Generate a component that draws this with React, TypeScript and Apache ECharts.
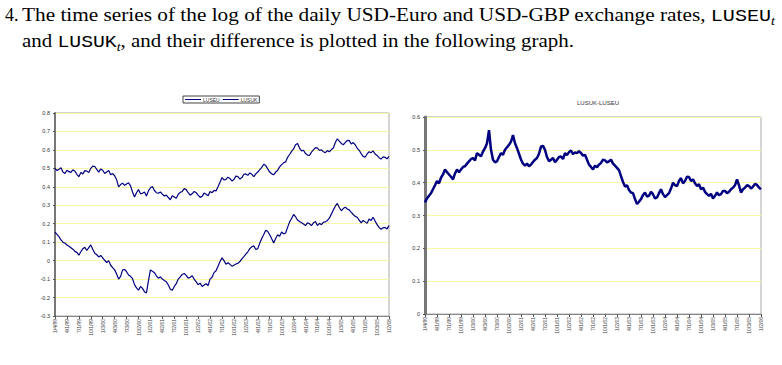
import React, { useEffect, useLayoutEffect, useRef } from "react";
import * as echarts from "echarts";

// Semi-monthly observation dates
const dates = [
  "1/4/99","1/18/99","2/1/99","2/15/99","3/1/99","3/15/99","4/1/99","4/15/99","5/3/99","5/17/99","6/1/99","6/15/99","7/1/99","7/15/99","8/2/99","8/16/99","9/1/99","9/15/99","10/1/99","10/15/99","11/1/99","11/15/99","12/1/99","12/15/99",
  "1/3/00","1/17/00","2/1/00","2/15/00","3/1/00","3/15/00","4/3/00","4/17/00","5/1/00","5/15/00","6/1/00","6/15/00","7/3/00","7/17/00","8/1/00","8/15/00","9/1/00","9/15/00","10/2/00","10/16/00","11/1/00","11/15/00","12/1/00","12/15/00",
  "1/2/01","1/16/01","2/1/01","2/15/01","3/1/01","3/15/01","4/2/01","4/16/01","5/1/01","5/15/01","6/1/01","6/15/01","7/2/01","7/16/01","8/1/01","8/15/01","9/3/01","9/17/01","10/1/01","10/15/01","11/1/01","11/15/01","12/3/01","12/17/01",
  "1/2/02","1/16/02","2/1/02","2/15/02","3/1/02","3/15/02","4/1/02","4/15/02","5/1/02","5/15/02","6/3/02","6/17/02","7/1/02","7/15/02","8/1/02","8/15/02","9/2/02","9/16/02","10/1/02","10/15/02","11/1/02","11/15/02","12/2/02","12/16/02",
  "1/2/03","1/16/03","2/3/03","2/17/03","3/3/03","3/17/03","4/1/03","4/15/03","5/1/03","5/15/03","6/2/03","6/16/03","7/1/03","7/15/03","8/1/03","8/15/03","9/1/03","9/15/03","10/1/03","10/15/03","11/3/03","11/17/03","12/1/03","12/15/03",
  "1/2/04","1/16/04","2/2/04","2/16/04","3/1/04","3/15/04","4/1/04","4/15/04","5/3/04","5/17/04","6/1/04","6/15/04","7/1/04","7/15/04","8/2/04","8/16/04","9/1/04","9/15/04","10/1/04","10/15/04","11/1/04","11/15/04","12/1/04","12/15/04",
  "1/3/05","1/17/05","2/1/05","2/15/05","3/1/05","3/15/05","4/1/05","4/15/05","5/2/05","5/16/05","6/1/05","6/15/05","7/1/05","7/15/05","8/1/05","8/15/05","9/1/05","9/15/05","10/3/05","10/17/05","11/1/05","11/15/05","12/1/05","12/15/05",
  "1/2/06",
];

const lusuk = [
  0.500, 0.488, 0.495, 0.503, 0.480, 0.472, 0.490, 0.482, 0.478, 0.492,
  0.485, 0.468, 0.455, 0.478, 0.470, 0.488, 0.485, 0.477, 0.500, 0.512,
  0.510, 0.495, 0.480, 0.497, 0.490, 0.472, 0.480, 0.488, 0.465, 0.472,
  0.460, 0.438, 0.400, 0.412, 0.420, 0.408, 0.415, 0.422, 0.405, 0.372,
  0.345, 0.368, 0.385, 0.362, 0.365, 0.372, 0.350, 0.378, 0.395, 0.402,
  0.380, 0.368, 0.365, 0.372, 0.360, 0.350, 0.355, 0.342, 0.330, 0.352,
  0.345, 0.338, 0.360, 0.370, 0.375, 0.390, 0.385, 0.368, 0.355, 0.362,
  0.375, 0.368, 0.355, 0.343, 0.348, 0.366, 0.360, 0.352, 0.375, 0.368,
  0.380, 0.378, 0.400, 0.425, 0.450, 0.437, 0.440, 0.452, 0.445, 0.432,
  0.440, 0.458, 0.455, 0.442, 0.450, 0.468, 0.470, 0.462, 0.475, 0.468,
  0.455, 0.470, 0.480, 0.493, 0.505, 0.522, 0.515, 0.497, 0.480, 0.470,
  0.465, 0.480, 0.490, 0.508, 0.520, 0.530, 0.535, 0.560, 0.575, 0.592,
  0.605, 0.628, 0.635, 0.610, 0.595, 0.598, 0.580, 0.572, 0.570, 0.588,
  0.600, 0.612, 0.610, 0.598, 0.600, 0.590, 0.585, 0.596, 0.590, 0.602,
  0.610, 0.640, 0.660, 0.648, 0.635, 0.628, 0.640, 0.652, 0.650, 0.632,
  0.640, 0.628, 0.610, 0.598, 0.580, 0.565, 0.560, 0.578, 0.590, 0.585,
  0.595, 0.578, 0.570, 0.558, 0.550, 0.562, 0.560, 0.552, 0.565,
];

const luseu = [
  0.155, 0.142, 0.130, 0.112, 0.100, 0.095, 0.085, 0.078, 0.070, 0.062,
  0.050, 0.045, 0.030, 0.048, 0.065, 0.072, 0.055, 0.070, 0.085, 0.062,
  0.040, 0.032, 0.020, 0.028, 0.015, 0.002, -0.010, 0.000, -0.025, -0.038,
  -0.050, -0.072, -0.100, -0.085, -0.050, -0.048, -0.060, -0.078, -0.085, -0.098,
  -0.130, -0.148, -0.160, -0.140, -0.150, -0.168, -0.175, -0.110, -0.050, -0.058,
  -0.065, -0.082, -0.095, -0.088, -0.100, -0.108, -0.115, -0.132, -0.155, -0.160,
  -0.140, -0.125, -0.100, -0.088, -0.075, -0.070, -0.080, -0.095, -0.090, -0.082,
  -0.100, -0.115, -0.130, -0.122, -0.140, -0.132, -0.125, -0.135, -0.100, -0.090,
  -0.065, -0.055, -0.030, -0.005, 0.015, 0.000, -0.020, -0.012, -0.020, -0.030,
  -0.025, -0.018, -0.015, -0.005, 0.010, 0.022, 0.035, 0.048, 0.065, 0.075,
  0.080, 0.060, 0.065, 0.095, 0.120, 0.142, 0.165, 0.158, 0.140, 0.118,
  0.095, 0.120, 0.140, 0.132, 0.155, 0.145, 0.150, 0.180, 0.210, 0.228,
  0.250, 0.238, 0.220, 0.212, 0.205, 0.198, 0.190, 0.205, 0.200, 0.190,
  0.205, 0.212, 0.190, 0.202, 0.195, 0.208, 0.210, 0.218, 0.230, 0.252,
  0.275, 0.295, 0.310, 0.288, 0.270, 0.282, 0.290, 0.280, 0.275, 0.262,
  0.250, 0.240, 0.235, 0.220, 0.205, 0.218, 0.210, 0.202, 0.225, 0.218,
  0.235, 0.215, 0.195, 0.180, 0.170, 0.178, 0.180, 0.172, 0.190,
];

const lusukMinusLuseu = [
  0.340, 0.352, 0.360, 0.368, 0.380, 0.392, 0.405, 0.398, 0.415, 0.425,
  0.440, 0.432, 0.425, 0.418, 0.410, 0.428, 0.440, 0.432, 0.440, 0.448,
  0.450, 0.458, 0.465, 0.472, 0.475, 0.468, 0.490, 0.485, 0.480, 0.495,
  0.505, 0.520, 0.560, 0.500, 0.470, 0.462, 0.465, 0.478, 0.490, 0.485,
  0.500, 0.508, 0.515, 0.525, 0.545, 0.520, 0.505, 0.488, 0.470, 0.458,
  0.452, 0.458, 0.450, 0.455, 0.463, 0.470, 0.475, 0.488, 0.510, 0.512,
  0.500, 0.478, 0.465, 0.470, 0.475, 0.462, 0.470, 0.478, 0.480, 0.472,
  0.490, 0.484, 0.493, 0.498, 0.487, 0.492, 0.490, 0.496, 0.490, 0.482,
  0.485, 0.470, 0.455, 0.448, 0.440, 0.452, 0.447, 0.455, 0.460, 0.470,
  0.468, 0.462, 0.465, 0.470, 0.458, 0.452, 0.445, 0.438, 0.420, 0.402,
  0.388, 0.392, 0.378, 0.370, 0.368, 0.350, 0.335, 0.342, 0.350, 0.362,
  0.370, 0.358, 0.360, 0.372, 0.365, 0.352, 0.355, 0.368, 0.380, 0.365,
  0.356, 0.362, 0.368, 0.382, 0.400, 0.392, 0.390, 0.405, 0.414, 0.398,
  0.405, 0.418, 0.417, 0.405, 0.410, 0.398, 0.390, 0.395, 0.380, 0.385,
  0.372, 0.365, 0.360, 0.366, 0.352, 0.360, 0.370, 0.362, 0.365, 0.375,
  0.375, 0.368, 0.372, 0.380, 0.385, 0.392, 0.410, 0.392, 0.370, 0.380,
  0.385, 0.392, 0.390, 0.382, 0.388, 0.396, 0.393, 0.385, 0.380,
];

const seriesNames = ["LUSEU", "LUSUK"];
const rightTitle = "LUSUK-LUSEU";

const NAVY = "#000080";
const GRID_YELLOW = "#f7f7a8";
const AXIS_FONT = "Liberation Sans, Arial, sans-serif";

function xAxisFor(gridIndex: number) {
  return {
    type: "category" as const,
    gridIndex,
    data: dates,
    boundaryGap: false,
    axisLine: { show: true, onZero: false, lineStyle: { color: "#888", width: 1 } },
    axisTick: { show: true, interval: 5, length: 3, lineStyle: { color: "#555" } },
    axisLabel: {
      interval: 5,
      rotate: 90,
      fontSize: 5,
      color: "#444",
      margin: 3,
      fontFamily: AXIS_FONT,
    },
    splitLine: { show: false },
  };
}

function yAxisFor(gridIndex: number, min: number, max: number, axisWidth: number) {
  return {
    type: "value" as const,
    gridIndex,
    min,
    max,
    interval: 0.1,
    axisLine: { show: true, lineStyle: { color: "#777", width: axisWidth } },
    axisTick: { show: true, length: 2, lineStyle: { color: "#555" } },
    axisLabel: {
      fontSize: 5.5,
      color: "#333",
      margin: 5,
      fontFamily: AXIS_FONT,
      formatter: (v: number) => String(Math.round(v * 10) / 10),
    },
    splitLine: { show: true, lineStyle: { color: GRID_YELLOW, width: 1 } },
  };
}

function FitLine(props: { left: number; top: number; width: number; children: React.ReactNode }) {
  const ref = useRef<HTMLDivElement>(null);
  useLayoutEffect(() => {
    const el = ref.current;
    if (!el) return;
    el.style.transform = "none";
    const w = el.scrollWidth;
    if (w > 0) el.style.transform = `scaleX(${props.width / w})`;
  }, [props.width]);
  return (
    <div
      ref={ref}
      style={{
        position: "absolute",
        left: props.left,
        top: props.top,
        whiteSpace: "nowrap",
        transformOrigin: "0 0",
        fontFamily: "'Liberation Serif', 'Times New Roman', serif",
        fontSize: 18,
        lineHeight: "18px",
        color: "#000",
        display: "inline-block",
      }}
    >
      {props.children}
    </div>
  );
}

const tt: React.CSSProperties = { fontFamily: "'Liberation Mono', 'DejaVu Sans Mono', monospace", fontSize: 17, fontWeight: "normal" };
const sub: React.CSSProperties = { fontStyle: "italic", fontSize: 12, position: "relative", top: 4 };

export default function App() {
  const chartRef = useRef<HTMLDivElement>(null);

  useEffect(() => {
    if (!chartRef.current) return;
    const chart = echarts.init(chartRef.current, undefined, { renderer: "svg" });
    chart.setOption({
      animation: false,
      backgroundColor: "#ffffff",
      title: {
        text: rightTitle,
        left: 593,
        top: 95,
        textAlign: "center",
        textStyle: { fontSize: 6, fontWeight: "normal", color: "#333", fontFamily: AXIS_FONT },
      },
      legend: {
        data: seriesNames,
        left: 183,
        top: 96,
        icon: "rect",
        itemWidth: 16,
        itemHeight: 1,
        itemGap: 3,
        padding: [1, 2],
        borderColor: "#444",
        borderWidth: 1,
        textStyle: { fontSize: 5, color: "#333", fontFamily: AXIS_FONT, padding: [0, 0, 0, -3] },
      },
      grid: [
        { left: 55, top: 113, width: 334, height: 203, show: true, borderColor: "#aaa", borderWidth: 1 },
        { left: 425, top: 117, width: 336, height: 197, show: true, borderColor: "#aaa", borderWidth: 1 },
      ],
      xAxis: [xAxisFor(0), xAxisFor(1)],
      yAxis: [yAxisFor(0, -0.3, 0.8, 2), yAxisFor(1, 0, 0.6, 3)],
      series: [
        {
          name: seriesNames[0],
          type: "line",
          xAxisIndex: 0,
          yAxisIndex: 0,
          data: luseu,
          symbol: "none",
          lineStyle: { color: NAVY, width: 1.2 },
          itemStyle: { color: NAVY },
        },
        {
          name: seriesNames[1],
          type: "line",
          xAxisIndex: 0,
          yAxisIndex: 0,
          data: lusuk,
          symbol: "none",
          lineStyle: { color: NAVY, width: 1.2 },
          itemStyle: { color: NAVY },
        },
        {
          name: rightTitle,
          type: "line",
          xAxisIndex: 1,
          yAxisIndex: 1,
          data: lusukMinusLuseu,
          symbol: "none",
          lineStyle: { color: NAVY, width: 2.5 },
          itemStyle: { color: NAVY },
        },
      ],
    });
    return () => chart.dispose();
  }, []);

  return (
    <div style={{ position: "absolute", left: 0, top: 0, width: 782, height: 365, background: "#fff" }}>
      <div ref={chartRef} style={{ position: "absolute", left: 0, top: 0, width: 782, height: 365 }} />
      <div
        style={{
          position: "absolute",
          left: 5,
          top: 6,
          fontFamily: "'Liberation Serif', serif",
          fontSize: 18,
          lineHeight: "18px",
          color: "#000",
        }}
      >
        4.
      </div>
      <FitLine left={22} top={6} width={753}>
        The time series of the log of the daily USD-Euro and USD-GBP exchange rates,{" "}
        <span style={tt}>LUSEU</span>
        <span style={sub}>t</span>
      </FitLine>
      <FitLine left={22} top={32} width={552}>
        and <span style={tt}>LUSUK</span>
        <span style={sub}>t</span>, and their difference is plotted in the following graph.
      </FitLine>
    </div>
  );
}
